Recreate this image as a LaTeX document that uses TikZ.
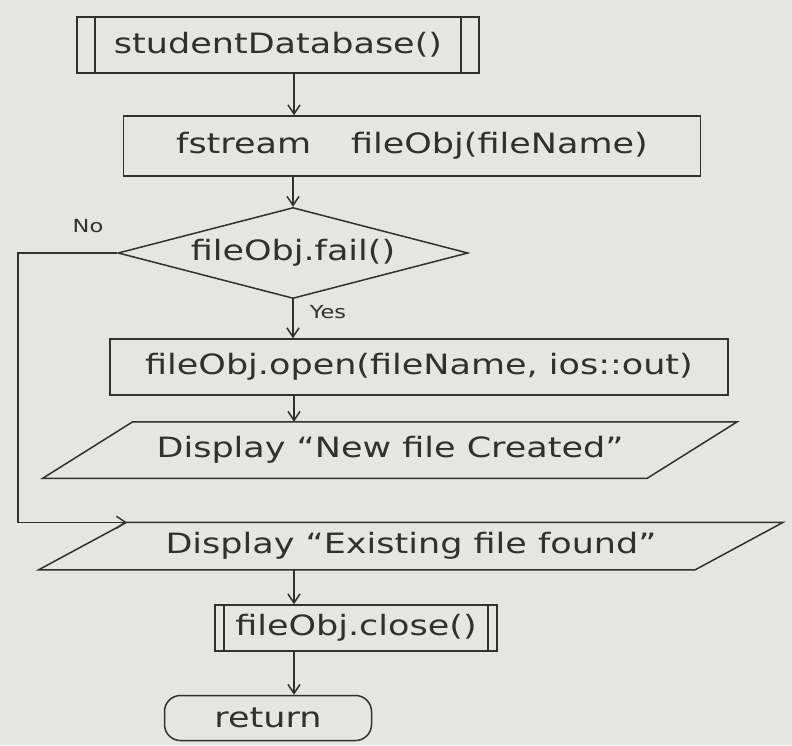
\documentclass[tikz,border=0pt]{standalone}
\usepackage{fontspec}
\newfontfamily\hand[FakeStretch=1.25]{DejaVu Sans}
\usetikzlibrary{shapes.geometric,arrows.meta,calc}
\definecolor{paper}{RGB}{229,229,226}
\definecolor{ink}{RGB}{48,48,48}
\begin{document}
\begin{tikzpicture}[x=1pt,y=-1pt,
  base/.style={draw=ink, line width=1.5pt, text=ink, inner sep=0pt,
    font=\hand\fontsize{28}{32}\selectfont},
  proc/.style={base, rectangle},
  pred/.style={base, rectangle, path picture={
    \draw[ink,line width=1.5pt]
      ([xshift=#1]path picture bounding box.north west) -- ([xshift=#1]path picture bounding box.south west)
      ([xshift=-#1]path picture bounding box.north east) -- ([xshift=-#1]path picture bounding box.south east);}},
  decision/.style={base, diamond, aspect=3.9},
  io/.style={base, rectangle, draw=none},
  outline/.style={draw=ink, line width=1.5pt, line join=miter},
  term/.style={base, rectangle, rounded corners=16pt},
  arrow/.style={draw=ink, line width=1.5pt, -{Straight Barb[length=9pt,width=12pt]}},
  lbl/.style={text=ink, inner sep=0pt, font=\hand\fontsize{18}{20}\selectfont}]
\fill[paper] (0,0) rectangle (792,745);
\useasboundingbox (0,0) rectangle (792,745);

\node[pred=18pt, minimum width=402pt, minimum height=56pt] (db) at (278,45) {studentDatabase()};
\node[proc, minimum width=577pt, minimum height=60pt] (fs) at (412,146) {fstream\hspace{40pt}fileObj(fileName)};
\node[decision, minimum width=350pt, minimum height=91pt] (dia) at (293,253) {fileObj.fail()};
\node[proc, minimum width=618pt, minimum height=56pt] (open) at (419,367) {fileObj.open(fileName, ios::out)};
\node[io, minimum width=603pt, minimum height=55pt] (d1) at (390,450) {Display “New file Created”};
\node[io, minimum width=655pt, minimum height=46pt] (d2) at (411,546) {Display “Existing file found”};
\node[pred=9pt, minimum width=282pt, minimum height=46pt] (close) at (356,628) {fileObj.close()};
\node[term, minimum width=207pt, minimum height=45pt] (ret) at (268,718) {return};

\draw[outline] ([xshift=45pt]d1.north west) -- ([xshift=45pt]d1.north east)
  -- ([xshift=-45pt]d1.south east) -- ([xshift=-45pt]d1.south west) -- cycle;
\draw[outline] ([xshift=44pt]d2.north west) -- ([xshift=44pt]d2.north east)
  -- ([xshift=-44pt]d2.south east) -- ([xshift=-44pt]d2.south west) -- cycle;
\coordinate (d2in) at ([xshift=44pt]d2.north west);

\node[lbl] (no) at (88,226) {No};
\node[lbl] (yes) at (328,312) {Yes};

\coordinate (sp) at (294,0);
\coordinate (nx) at (18,0);

\draw[arrow] (db.south -| sp) -- (fs.north -| sp);
\draw[arrow] (fs.south -| dia.north) -- (dia.north);
\draw[arrow] (dia.south) -- (open.north -| dia.south);
\draw[arrow] (open.south -| sp) -- (d1.north -| sp);
\draw[arrow] (d2.south -| sp) -- (close.north -| sp);
\draw[arrow] (close.south -| sp) -- (ret.north -| sp);
\draw[arrow] (dia.west) -- (dia.west -| nx) |- (d2in);
\end{tikzpicture}
\end{document}
